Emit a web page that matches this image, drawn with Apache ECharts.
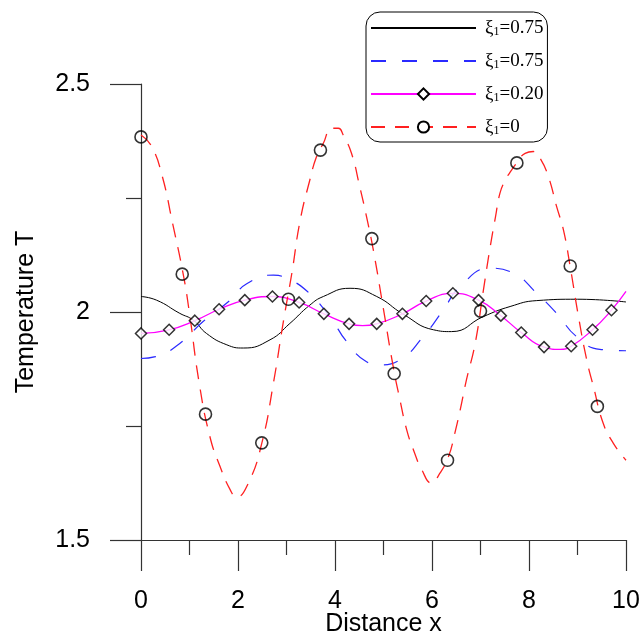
<!DOCTYPE html>
<html>
<head>
<meta charset="utf-8">
<script src="https://cdn.jsdelivr.net/npm/echarts@6.0.0/dist/echarts.min.js"></script>
<style>
  html, body { margin: 0; padding: 0; background: #fff; }
  #chart { width: 643px; height: 640px; }
</style>
</head>
<body>
<div id="chart"></div>
<script>
// Temperature profiles T(x) for several values of xi_1
const blackCurve = [
  [0, 2.034], [0.32, 2.026], [0.8, 1.997], [1.08, 1.982], [1.35, 1.953], [1.77, 1.928],
  [2.11, 1.921], [2.66, 1.939], [3.07, 1.975], [3.48, 2.015], [3.76, 2.034], [4.31, 2.052],
  [4.86, 2.034], [5.41, 1.995], [6.03, 1.961], [6.4, 1.957], [7.06, 1.990], [7.61, 2.012],
  [8.16, 2.025], [9.0, 2.028], [10, 2.022]
];
const blueCurve = [
  [0, 1.898], [0.3, 1.902], [0.8, 1.931], [1.28, 1.979], [1.84, 2.026], [2.18, 2.062],
  [2.73, 2.081], [3.0, 2.074], [3.42, 2.046], [3.89, 1.990], [4.24, 1.935], [4.65, 1.891],
  [4.93, 1.884], [5.34, 1.895], [5.82, 1.946], [6.23, 2.004], [6.58, 2.056], [7.2, 2.096],
  [7.68, 2.085], [8.16, 2.041], [8.57, 1.997], [8.98, 1.946], [9.46, 1.918], [10, 1.915]
];
const magentaCurve = [
  [0, 1.953], [0.58, 1.961], [1.11, 1.981], [1.61, 2.006], [2.14, 2.026], [2.71, 2.034],
  [3.26, 2.021], [3.77, 1.996], [4.29, 1.974], [4.57, 1.970], [4.86, 1.974], [5.39, 1.996],
  [5.88, 2.024], [6.43, 2.041], [6.96, 2.026], [7.42, 1.992], [7.84, 1.955], [8.31, 1.923],
  [8.64, 1.918], [8.87, 1.925], [9.31, 1.961], [9.70, 2.004], [10, 2.045]
];
const diamondPoints = [
  [0, 1.953], [0.58, 1.961], [1.11, 1.981], [1.61, 2.006], [2.14, 2.026], [2.71, 2.034],
  [3.26, 2.021], [3.77, 1.996], [4.29, 1.974], [4.86, 1.974], [5.39, 1.996], [5.88, 2.024],
  [6.43, 2.041], [6.96, 2.026], [7.42, 1.992], [7.84, 1.955], [8.31, 1.923], [8.87, 1.925],
  [9.31, 1.961], [9.70, 2.004]
];
const redCurve = [
  [0, 2.388], [0.22, 2.363], [0.44, 2.297], [0.65, 2.195], [0.87, 2.083], [1.0, 1.997],
  [1.2, 1.844], [1.42, 1.727], [1.63, 1.661], [1.84, 1.610], [1.97, 1.594], [2.21, 1.624],
  [2.49, 1.712], [2.73, 1.844], [2.94, 1.982], [3.11, 2.085], [3.28, 2.200], [3.48, 2.289],
  [3.62, 2.341], [3.76, 2.370], [3.93, 2.403], [4.07, 2.403], [4.17, 2.388], [4.34, 2.348],
  [4.51, 2.275], [4.65, 2.209], [4.79, 2.136], [4.99, 2.012], [5.20, 1.880], [5.34, 1.807],
  [5.48, 1.741], [5.62, 1.697], [5.79, 1.654], [5.99, 1.625], [6.16, 1.646], [6.34, 1.683],
  [6.47, 1.734], [6.58, 1.785], [6.71, 1.851], [6.89, 1.931], [7.06, 2.048], [7.20, 2.143],
  [7.31, 2.209], [7.40, 2.260], [7.51, 2.289], [7.64, 2.311], [7.75, 2.327], [7.92, 2.348],
  [8.09, 2.352], [8.23, 2.337], [8.40, 2.297], [8.57, 2.231], [8.71, 2.180], [8.85, 2.099],
  [9.02, 1.990], [9.19, 1.895], [9.33, 1.836], [9.53, 1.756], [9.74, 1.712], [10, 1.675]
];
const circlePoints = [
  [0, 2.384], [0.85, 2.083], [1.33, 1.776], [2.49, 1.713], [3.04, 2.028], [3.70, 2.355],
  [4.76, 2.161], [5.22, 1.865], [6.32, 1.675], [7.00, 2.002], [7.75, 2.327], [8.85, 2.101],
  [9.41, 1.793]
];
const seriesKeys = ['xiA', 'xiB', 'xiC', 'xiD'];
const xiValues = ['0.75', '0.75', '0.20', '0'];
const xTicks = { min: 0, max: 10, interval: 2 };
const yTicks = { min: 1.5, max: 2.5, interval: 0.5 };

const sans = '"Liberation Sans", Arial, sans-serif';
const serif = '"Liberation Serif", "Times New Roman", serif';
const axisColor = '#333';

const chart = echarts.init(document.getElementById('chart'), null, { renderer: 'canvas' });
chart.setOption({
  animation: false,
  backgroundColor: '#fff',
  grid: { left: 141, right: 17, top: 84, bottom: 100, containLabel: false, outerBoundsMode: 'none' },
  xAxis: {
    type: 'value', min: xTicks.min, max: xTicks.max, interval: xTicks.interval,
    name: 'Distance x', nameLocation: 'middle', nameGap: 72, nameMoveOverlap: false,
    nameTextStyle: { fontFamily: sans, fontSize: 25, color: '#000' },
    axisLine: { show: true, onZero: false, lineStyle: { color: axisColor, width: 1.2 } },
    axisTick: { show: true, inside: false, length: 31, lineStyle: { color: axisColor, width: 1.2 } },
    minorTick: { show: true, splitNumber: 2, length: 15, lineStyle: { color: axisColor, width: 1.2 } },
    axisLabel: { margin: 49, fontFamily: sans, fontSize: 25, color: '#000' },
    splitLine: { show: false }
  },
  yAxis: {
    type: 'value', min: yTicks.min, max: yTicks.max, interval: yTicks.interval,
    name: 'Temperature T', nameLocation: 'middle', nameGap: 102, nameRotate: 90, nameMoveOverlap: false,
    nameTextStyle: { fontFamily: sans, fontSize: 25, color: '#000' },
    axisLine: { show: true, onZero: false, lineStyle: { color: axisColor, width: 1.2 } },
    axisTick: { show: true, inside: false, length: 31, lineStyle: { color: axisColor, width: 1.2 } },
    minorTick: { show: true, splitNumber: 2, length: 15, lineStyle: { color: axisColor, width: 1.2 } },
    axisLabel: { margin: 51, fontFamily: sans, fontSize: 25, color: '#000' },
    splitLine: { show: false }
  },
  legend: {
    orient: 'vertical', left: 366, top: 12,
    padding: [6, 4, 5, 4],
    itemWidth: 105, itemHeight: 14, itemGap: 13,
    borderColor: '#000', borderWidth: 1, borderRadius: 14,
    backgroundColor: '#fff',
    selectedMode: false,
    data: [
      { name: seriesKeys[0], itemStyle: { opacity: 0 } },
      { name: seriesKeys[1], itemStyle: { opacity: 0 } },
      { name: seriesKeys[2] },
      { name: seriesKeys[3] }
    ],
    formatter: function (name) {
      const v = xiValues[seriesKeys.indexOf(name)];
      return '{g|ξ}{s|1}{e|=' + v + '}';
    },
    textStyle: {
      lineHeight: 18,
      rich: {
        g: { fontFamily: serif, fontSize: 19, lineHeight: 18, color: '#000', padding: [0, 0, 0, 4] },
        s: { fontFamily: serif, fontSize: 12, lineHeight: 18, color: '#000', padding: [8, 0, 0, 0] },
        e: { fontFamily: serif, fontSize: 19, lineHeight: 18, color: '#000' }
      }
    }
  },
  series: [
    {
      name: seriesKeys[0], type: 'line', data: blackCurve, smooth: true,
      symbol: 'none', lineStyle: { color: '#000', width: 1 }, z: 2
    },
    {
      name: seriesKeys[1], type: 'line', data: blueCurve, smooth: true,
      symbol: 'none', lineStyle: { color: '#2a2aff', width: 1.2, type: [15, 16] }, z: 2
    },
    {
      name: seriesKeys[2], type: 'line', data: magentaCurve, smooth: true,
      symbol: 'diamond', showSymbol: false, symbolSize: 11,
      itemStyle: { color: '#fff', borderColor: '#000', borderWidth: 1.5 },
      lineStyle: { color: '#ff00ff', width: 1.3 }, z: 3
    },
    {
      name: seriesKeys[3], type: 'line', data: redCurve, smooth: true,
      symbol: 'circle', showSymbol: false, symbolSize: 12,
      itemStyle: { color: '#fff', borderColor: '#000', borderWidth: 1.5 },
      lineStyle: { color: '#ff2020', width: 1.3, type: [14, 10] }, z: 3
    },
    {
      name: 'diamondMarks', type: 'scatter', data: diamondPoints,
      symbol: 'diamond', symbolSize: 11,
      itemStyle: { color: '#fff', borderColor: '#000', borderWidth: 1.5 }, z: 4
    },
    {
      name: 'circleMarks', type: 'scatter', data: circlePoints,
      symbol: 'circle', symbolSize: 12,
      itemStyle: { color: 'rgba(0,0,0,0)', borderColor: '#000', borderWidth: 1.6 }, z: 4
    }
  ]
});
</script>
</body>
</html>
